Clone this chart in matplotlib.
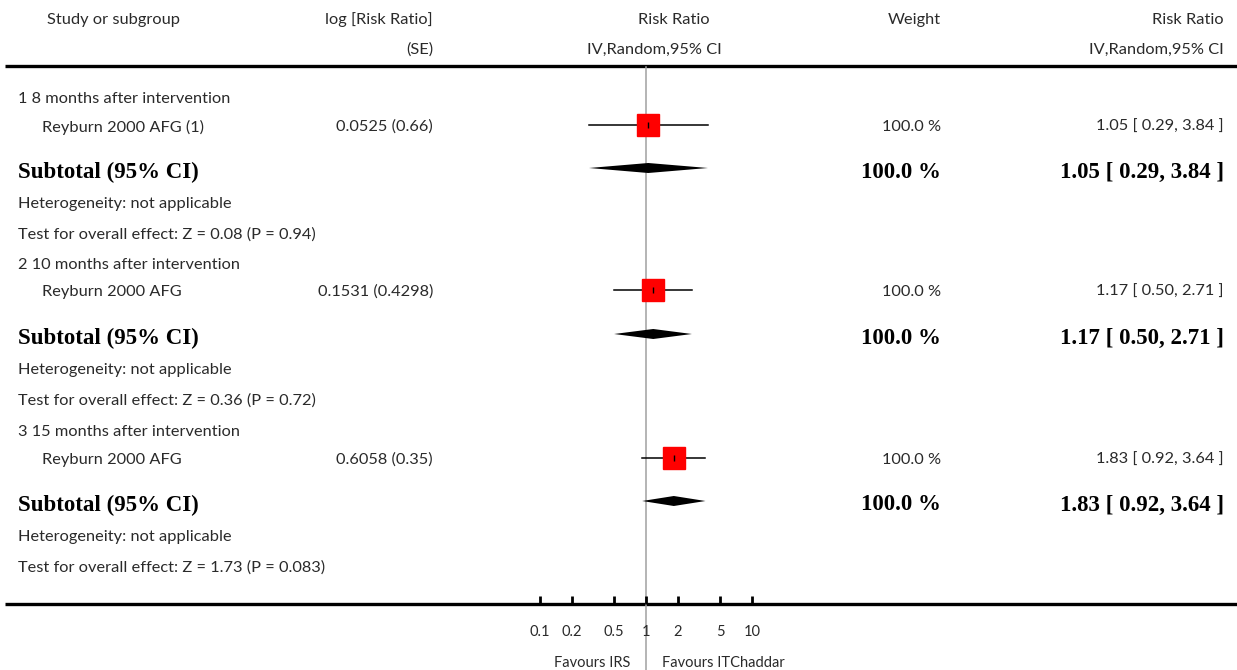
import matplotlib
matplotlib.use("Agg")
import matplotlib.pyplot as plt
import numpy as np

# data
groups = ['1 8 months after intervention', '2 10 months after intervention',
          '3 15 months after intervention']
studies = ['Reyburn 2000 AFG (1)', 'Reyburn 2000 AFG', 'Reyburn 2000 AFG']
log_se = ['0.0525 (0.66)', '0.1531 (0.4298)', '0.6058 (0.35)']
rr = [1.05, 1.17, 1.83]
lo = [0.29, 0.50, 0.92]
hi = [3.84, 2.71, 3.64]
weights = [100.0, 100.0, 100.0]
z_vals = ['0.08', '0.36', '1.73']
p_vals = ['0.94', '0.72', '0.083']
ticks = [0.1, 0.2, 0.5, 1, 2, 5, 10]
tick_labels = ['0.1', '0.2', '0.5', '1', '2', '5', '10']

W, H = 1237, 670
SANS = ['Lato', 'DejaVu Sans']
SERIF = ['Liberation Serif', 'DejaVu Serif']
TXT = '#2a2a2a'
FS = 11.8
DY = 2  # baseline nudge for text

fig = plt.figure(figsize=(W / 100, H / 100), dpi=100)
# text layer in pixel units
at = fig.add_axes([0, 0, 1, 1])
at.set_xlim(0, W)
at.set_ylim(H, 0)
at.axis('off')
# plot layer on log scale: 1 at x=646 px, one decade = 106 px
af = fig.add_axes([0, 0, 1, 1], sharey=at)
af.set_xscale('log')
af.set_xlim(10 ** (-646 / 106), 10 ** ((W - 646) / 106))
af.axis('off')
af.patch.set_alpha(0)

def t(x, y, s, ha='left', size=FS, bold=False):
    if bold:
        at.text(x, y + DY, s, ha=ha, va='center', fontsize=size, fontweight='bold',
                family=SERIF, color='black')
    else:
        at.text(x, y + DY, s, ha=ha, va='center', fontsize=size, family=SANS, color=TXT)

# header
t(47, 18, 'Study or subgroup')
t(433, 18, 'log [Risk Ratio]', ha='right')
t(433, 48, '(SE)', ha='right')
t(674, 18, 'Risk Ratio', ha='center')
t(654, 48, 'IV,Random,95% CI', ha='center')
t(941, 18, 'Weight', ha='right')
t(1224, 18, 'Risk Ratio', ha='right')
t(1224, 48, 'IV,Random,95% CI', ha='right')
at.plot([5, W], [66, 66], color='black', lw=2.4, solid_capstyle='butt')

# reference line at RR = 1
af.plot([1, 1], [67, H], color='#a0a0a0', lw=1.1, zorder=1)

row0 = [97, 263, 430]
step = [28, 73, 105, 136]
for i in range(3):
    y0 = row0[i]
    ys = y0 + step[0] - (1 if i == 1 else 0)
    ysub = y0 + step[1]
    t(18, y0, groups[i])
    t(42, ys, studies[i])
    t(433, ys, log_se[i], ha='right')
    t(941, ys, '%.1f %%' % weights[i], ha='right')
    t(1224, ys, '%.2f [ %.2f, %.2f ]' % (rr[i], lo[i], hi[i]), ha='right')
    t(18, ysub, 'Subtotal (95% CI)', bold=True, size=16.5)
    t(941, ysub, '%.1f %%' % weights[i], ha='right', bold=True, size=16.5)
    t(1224, ysub, '%.2f [ %.2f, %.2f ]' % (rr[i], lo[i], hi[i]), ha='right',
      bold=True, size=16.5)
    t(18, y0 + step[2], 'Heterogeneity: not applicable')
    t(18, y0 + step[3], 'Test for overall effect: Z = %s (P = %s)' % (z_vals[i], p_vals[i]))

    af.plot([lo[i], hi[i]], [ys, ys], color='black', lw=1.1, zorder=2)
    af.plot(rr[i], ys, marker='s', ms=15.5, color='#ff0000', mec='#ff0000', zorder=3)
    af.plot(rr[i], ys, marker='|', ms=5, color='black', mew=1, zorder=4)
    af.fill([lo[i], rr[i], hi[i], rr[i]], [ysub - 2, ysub - 7, ysub - 2, ysub + 3],
            color='black', lw=0, zorder=3)

# bottom axis
at.plot([5, W], [604, 604], color='black', lw=2.4, solid_capstyle='butt')
for v, lab in zip(ticks, tick_labels):
    af.plot([v, v], [596, 604], color='black', lw=2, solid_capstyle='butt')
    af.text(v, 630 + DY, lab, ha='center', va='center', fontsize=10.5,
            family=SANS, color=TXT)
af.text(0.706, 661 + DY, 'Favours IRS', ha='right', va='center', fontsize=10.5,
        family=SANS, color=TXT)
af.text(1.416, 661 + DY, 'Favours ITChaddar', ha='left', va='center', fontsize=10.5,
        family=SANS, color=TXT)

fig.savefig('out.png', dpi=100)
